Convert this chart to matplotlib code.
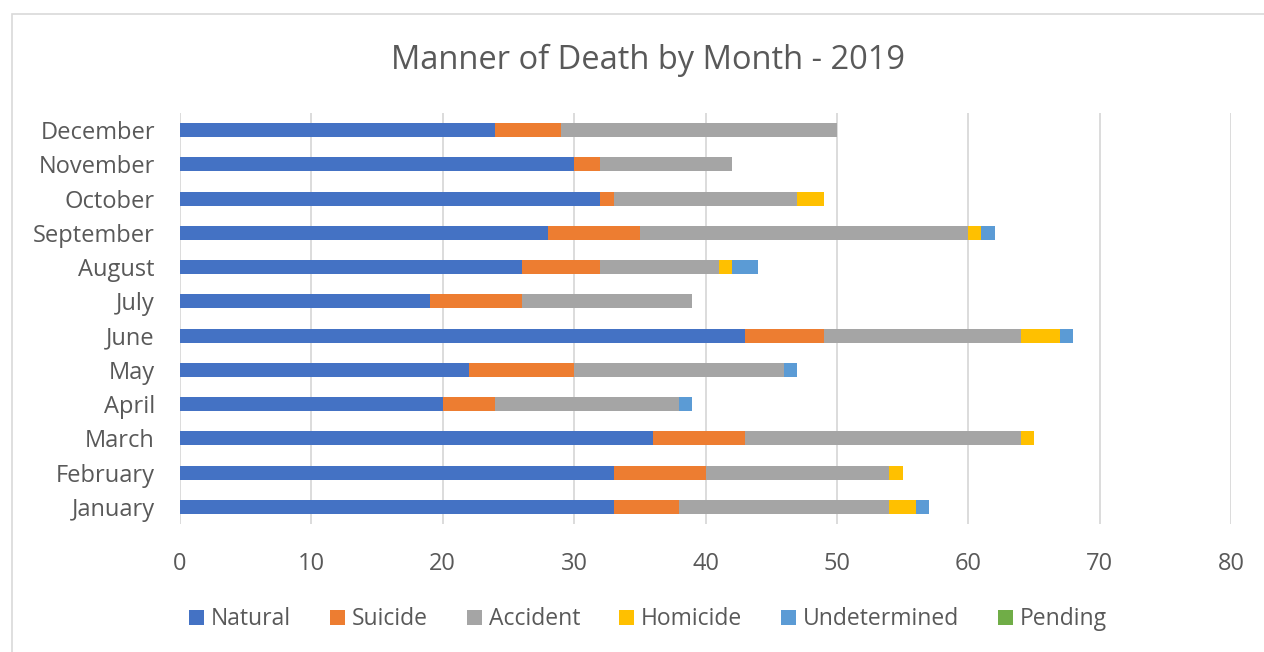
import matplotlib
matplotlib.use("Agg")
import matplotlib.pyplot as plt
from matplotlib.patches import Rectangle
import numpy as np

months = ["January", "February", "March", "April", "May", "June",
          "July", "August", "September", "October", "November", "December"]
natural      = [33, 33, 36, 20, 22, 43, 19, 26, 28, 32, 30, 24]
suicide      = [5, 7, 7, 4, 8, 6, 7, 6, 7, 1, 2, 5]
accident     = [16, 14, 21, 14, 16, 15, 13, 9, 25, 14, 10, 21]
homicide     = [2, 1, 1, 0, 0, 3, 0, 1, 1, 2, 0, 0]
undetermined = [1, 0, 0, 1, 1, 1, 0, 2, 1, 0, 0, 0]
pending      = [0, 0, 0, 0, 0, 0, 0, 0, 0, 0, 0, 0]

series = [("Natural", natural, "#4472C4"),
          ("Suicide", suicide, "#ED7D31"),
          ("Accident", accident, "#A5A5A5"),
          ("Homicide", homicide, "#FFC000"),
          ("Undetermined", undetermined, "#5B9BD5"),
          ("Pending", pending, "#70AD47")]

plt.rcParams['font.family'] = ['Open Sans', 'DejaVu Sans']
fig = plt.figure(figsize=(12.64, 6.52), dpi=100)
ax = fig.add_axes([0.1424, 0.1963, 0.8315, 0.6304])

y = np.arange(len(months))
left = np.zeros(len(months))
for name, vals, col in series:
    vals = np.array(vals, dtype=float)
    ax.barh(y, vals, left=left, height=0.41, color=col, label=name, zorder=3)
    left += vals

ax.set_xlim(0, 80)
ax.set_ylim(-0.5, 11.5)
ax.set_xticks(range(0, 81, 10))
ax.set_yticks(y)
ax.set_yticklabels(months)
ax.grid(axis='x', color='#D9D9D9', linewidth=1.3, zorder=0)
for s in ax.spines.values():
    s.set_visible(False)
ax.tick_params(axis='both', length=0, labelsize=17, colors='#595959')
ax.tick_params(axis='x', pad=20)
ax.tick_params(axis='y', pad=18)

fig.text(0.5127, 0.908, "Manner of Death by Month - 2019", ha='center', va='center',
         fontsize=23.5, color='#595959')

fig.legend(loc='center', bbox_to_anchor=(0.5127, 0.050), ncol=6, frameon=False,
           fontsize=16.5, handlelength=0.65, handleheight=0.65, handletextpad=0.3,
           columnspacing=1.7, labelcolor='#595959')

fig.patches.append(Rectangle((12/1264, -0.1), 1.2, 1 - 14/652 + 0.1, transform=fig.transFigure,
                             fill=False, edgecolor='#D9D9D9', linewidth=1.2))

fig.savefig("out.png", dpi=100)
